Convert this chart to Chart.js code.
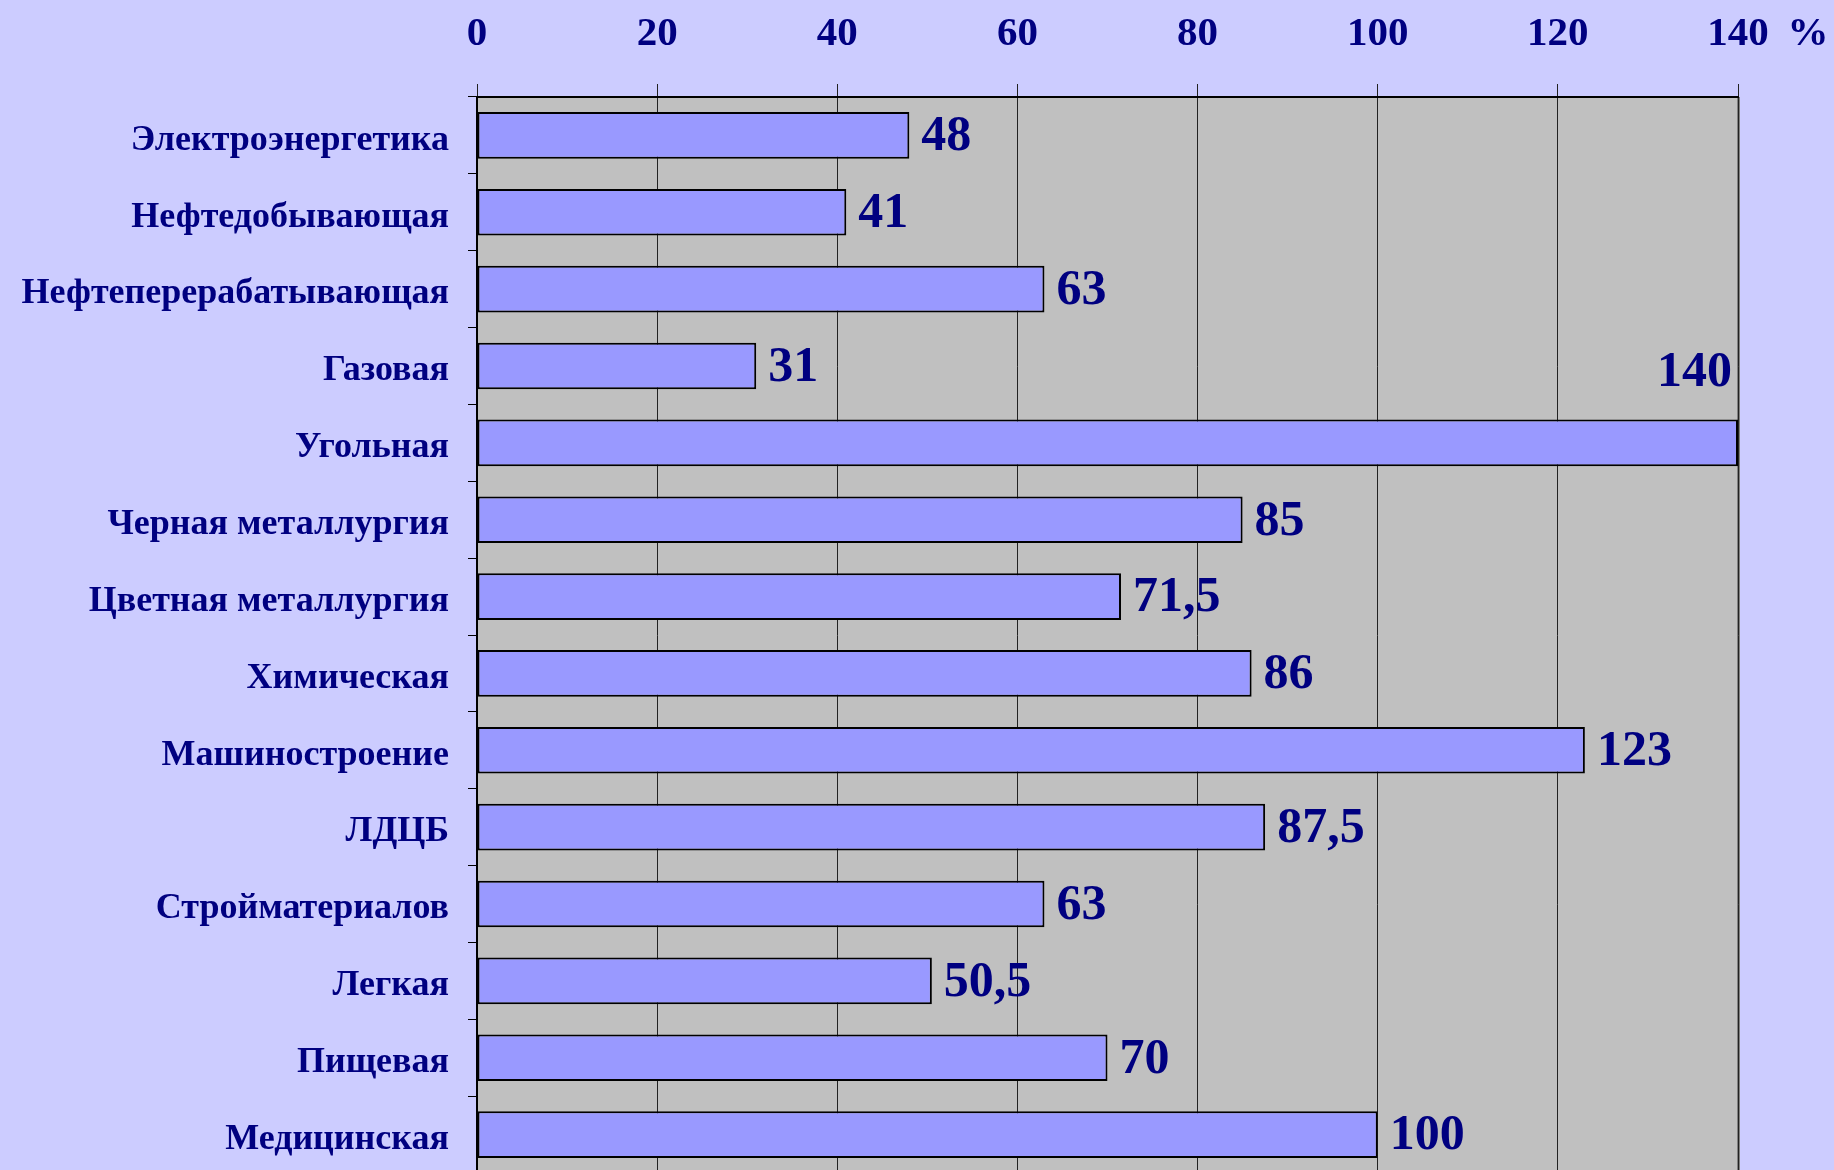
<!DOCTYPE html>
<html>
<head>
<meta charset="utf-8">
<script src="https://cdn.jsdelivr.net/npm/chart.js@4/dist/chart.umd.min.js"></script>
<style>
  html, body { margin: 0; padding: 0; background: #ccccff; overflow: hidden; }
  canvas { display: block; }
</style>
</head>
<body>
<canvas id="chart" width="1834" height="1174"></canvas>
<script>
const industries = [
  'Электроэнергетика', 'Нефтедобывающая', 'Нефтеперерабатывающая', 'Газовая',
  'Угольная', 'Черная металлургия', 'Цветная металлургия', 'Химическая',
  'Машиностроение', 'ЛДЦБ', 'Стройматериалов', 'Легкая', 'Пищевая', 'Медицинская'
];
const percents = [48, 41, 63, 31, 140, 85, 71.5, 86, 123, 87.5, 63, 50.5, 70, 100];
const xTicks = [0, 20, 40, 60, 80, 100, 120, 140];

const navy = '#000080';
const serif = "'Liberation Serif', 'Times New Roman', serif";

// grey plot area with a grey right edge
const plotBackground = {
  id: 'plotBackground',
  beforeDraw(chart) {
    const { ctx, chartArea: a } = chart;
    ctx.save();
    ctx.fillStyle = '#c0c0c0';
    ctx.fillRect(a.left, a.top, a.right - a.left, a.bottom - a.top);
    ctx.strokeStyle = '#808080';
    ctx.lineWidth = 3;
    ctx.beginPath();
    ctx.moveTo(a.right + 0.5, a.top);
    ctx.lineTo(a.right + 0.5, a.bottom);
    ctx.stroke();
    ctx.restore();
  }
};

// value labels next to the bars, plus the % sign after the last tick
const valueLabels = {
  id: 'valueLabels',
  afterDatasetsDraw(chart) {
    const { ctx, chartArea: a } = chart;
    const meta = chart.getDatasetMeta(0);
    ctx.save();
    ctx.fillStyle = navy;
    ctx.font = 'bold 50px ' + serif;
    meta.data.forEach((bar, i) => {
      const text = String(percents[i]).replace('.', ',');
      const w = ctx.measureText(text).width;
      ctx.textBaseline = 'middle';
      if (bar.x + 12 + w > a.right) {
        ctx.textAlign = 'right';
        ctx.fillText(text, bar.x - 6, bar.y - 70);
      } else {
        ctx.textAlign = 'left';
        ctx.fillText(text, bar.x + 12, bar.y + 2);
      }
    });
    const x = chart.scales.x;
    ctx.font = 'bold 41px ' + serif;
    ctx.textAlign = 'center';
    ctx.fillText('%', x.getPixelForValue(140) + 70, 34);
    ctx.restore();
  }
};

new Chart(document.getElementById('chart'), {
  type: 'bar',
  data: {
    labels: industries,
    datasets: [{
      data: percents,
      backgroundColor: '#9999ff',
      borderColor: '#000000',
      borderWidth: 2,
      borderSkipped: false,
      categoryPercentage: 1,
      barPercentage: 0.607
    }]
  },
  options: {
    indexAxis: 'y',
    responsive: false,
    animation: false,
    layout: { padding: { left: 0, right: 96, top: 0, bottom: 1 } },
    plugins: {
      legend: { display: false },
      tooltip: { enabled: false }
    },
    scales: {
      x: {
        position: 'top',
        min: 0,
        max: 140,
        afterBuildTicks: (s) => { s.ticks = xTicks.map(v => ({ value: v })); },
        afterFit: (s) => { s.height = 97; },
        grid: { color: '#222222', lineWidth: 1, tickLength: 13 },
        border: { display: true, color: '#000000', width: 2 },
        ticks: {
          color: navy,
          padding: 25,
          font: { family: serif, size: 41, weight: 'bold' }
        }
      },
      y: {
        afterFit: (s) => {
          s.width = 477;
          s.paddingTop = 0;
          s.paddingBottom = 0;
        },
        grid: { display: true, drawOnChartArea: false, color: '#000000', tickLength: 9, offset: true },
        border: { display: true, color: '#000000', width: 2 },
        ticks: {
          color: navy,
          padding: 19,
          labelOffset: 5,
          font: { family: serif, size: 36, weight: 'bold' }
        }
      }
    }
  },
  plugins: [plotBackground, valueLabels]
});
</script>
</body>
</html>
